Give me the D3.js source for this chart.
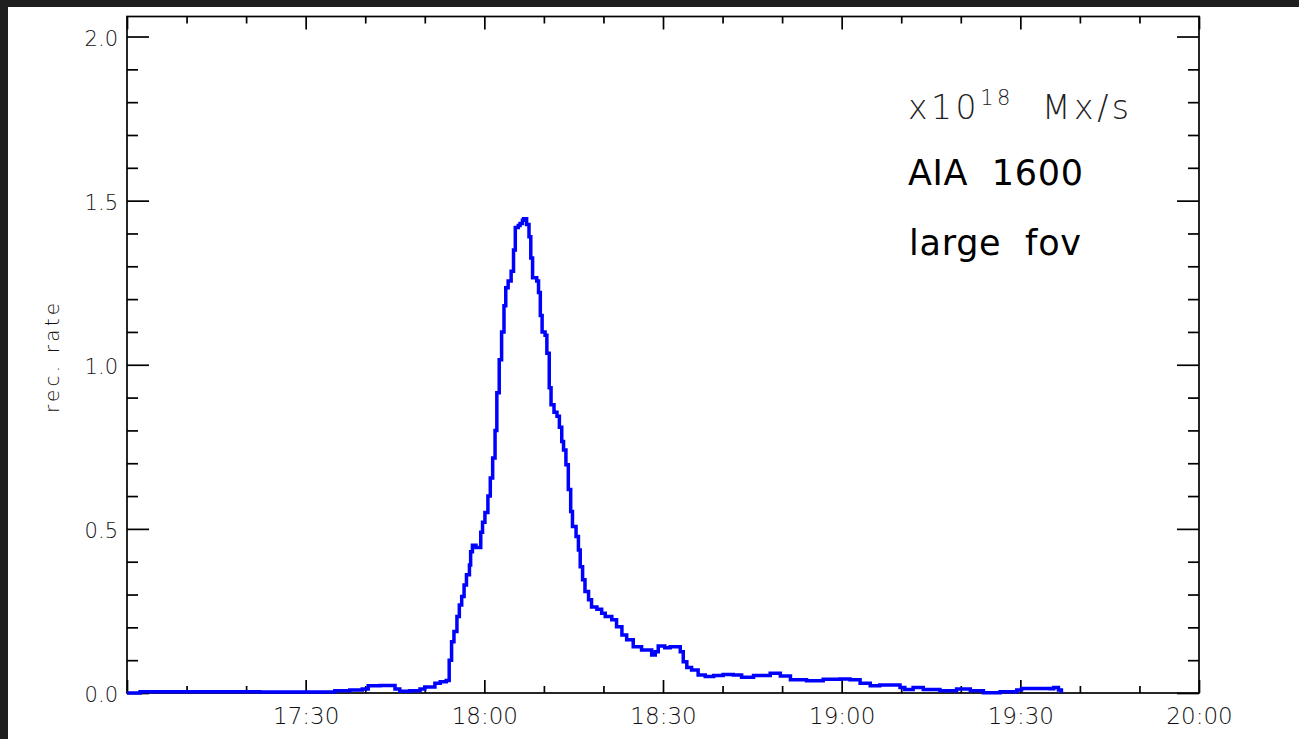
<!DOCTYPE html>
<html>
<head>
<meta charset="utf-8">
<title>rec_rate_aia1600</title>
<script src="https://d3js.org/d3.v7.min.js"></script>
<style>
  html, body { margin: 0; padding: 0; background: #1f1f1f; }
  svg { display: block; }
  .tick text { font-family: "DejaVu Sans", sans-serif; font-weight: 200; fill: #111; }
</style>
</head>
<body>
<svg id="container" width="1299" height="739"></svg>
<script>
// minutes after 17:00 UT
let times = [0, 2.2, 12.3, 22.3, 29.1, 34.9, 37.4, 39.5, 40.5, 42.5, 45.0, 45.8, 47.5, 49.2, 50.0,
  51.7, 52.6, 53.6, 54.1, 54.5, 54.9, 55.4, 55.8, 56.2, 56.6, 57.0, 57.5, 57.7, 58.0, 58.6, 59.4,
  59.7, 60.1, 60.6, 61.0, 61.4, 61.8, 62.1, 62.5, 62.9, 63.3, 63.6, 64.0, 64.5, 64.9, 65.2, 65.7,
  66.0, 66.4, 66.6, 67.1, 67.5, 67.8, 68.1, 68.8, 69.1, 69.4, 69.7, 70.2, 70.5, 70.9, 71.2, 71.7,
  72.2, 72.6, 73.0, 73.3, 73.7, 74.1, 74.5, 74.8, 75.4, 75.8, 76.1, 76.5, 76.9, 77.5, 78.0, 78.9,
  79.7, 80.3, 81.4, 82.2, 83.1, 83.9, 85.0, 86.4, 88.1, 88.7, 89.2, 90.3, 91.2, 92.3, 92.9, 93.4,
  94.0, 94.8, 95.9, 97.1, 98.5, 100.1, 101.8, 103.2, 105.2, 108.0, 109.7, 111.4, 114.1, 116.9,
  119.7, 121.4, 123.1, 124.8, 126.4, 129.8, 130.6, 132.0, 133.7, 136.5, 139.3, 141.6, 143.8,
  146.6, 149.4, 150.2, 152.7, 155.0, 155.6, 156.4, 156.9]

// reconnection rate, x10^18 Mx/s
let rates = [0.000, 0.004, 0.004, 0.003, 0.003, 0.007, 0.009, 0.012, 0.022, 0.023, 0.012, 0.005, 0.007, 0.012, 0.018,
  0.030, 0.034, 0.038, 0.100, 0.156, 0.187, 0.233, 0.268, 0.294, 0.329, 0.360, 0.390, 0.430, 0.450, 0.443, 0.490,
  0.520, 0.550, 0.600, 0.655, 0.716, 0.800, 0.915, 1.015, 1.100, 1.180, 1.235, 1.255, 1.285, 1.350, 1.418, 1.424,
  1.430, 1.440, 1.445, 1.427, 1.390, 1.325, 1.265, 1.255, 1.220, 1.150, 1.100, 1.090, 1.035, 0.930, 0.878, 0.855,
  0.843, 0.810, 0.766, 0.740, 0.695, 0.620, 0.553, 0.507, 0.477, 0.436, 0.385, 0.345, 0.309, 0.284, 0.262, 0.255,
  0.243, 0.233, 0.223, 0.202, 0.177, 0.162, 0.141, 0.131, 0.116, 0.126, 0.143, 0.138, 0.141, 0.141, 0.126, 0.095,
  0.078, 0.070, 0.055, 0.050, 0.053, 0.056, 0.055, 0.048, 0.053, 0.060, 0.052, 0.040, 0.037, 0.042,
  0.043, 0.040, 0.030, 0.022, 0.024, 0.017, 0.011, 0.017, 0.011, 0.007, 0.012, 0.007, 0.001,
  0.004, 0.009, 0.014, 0.014, 0.013, 0.017, 0.009, 0.000]

let xMajor = [0, 30, 60, 90, 120, 150, 180]
let xLabels = ["", "17:30", "18:00", "18:30", "19:00", "19:30", "20:00"]
let xMinor = [10, 20, 40, 50, 70, 80, 100, 110, 130, 140, 160, 170]
let yMajor = [0, 0.5, 1.0, 1.5, 2.0]
let yLabels = ["0.0", "0.5", "1.0", "1.5", "2.0"]
let yMinor = [0.1, 0.2, 0.3, 0.4, 0.6, 0.7, 0.8, 0.9, 1.1, 1.2, 1.3, 1.4, 1.6, 1.7, 1.8, 1.9]

let svg = d3.select('#container')
let padLeft = 127, padTop = 16.5, boxRight = 1199, boxBottom = 693
let w = boxRight - padLeft, h = boxBottom - padTop

// white page inside the dark frame
svg.append('rect').attr('x', 8).attr('y', 7).attr('width', 1299 - 8).attr('height', 739 - 7).attr('fill', 'white')

let body = svg.append('g').attr('transform', `translate(${padLeft},${padTop})`)

let x = d3.scaleLinear().domain([0, 180]).range([0, w])
let y = d3.scaleLinear().domain([0, 2.061]).range([h, 0])

function styleAxis(g) {
  g.select('.domain').remove()
  g.selectAll('.tick line').attr('stroke', 'black').attr('stroke-width', 1.7)
}

// bottom axis
body.append('g').attr('transform', `translate(0,${h})`)
  .call(d3.axisBottom(x).tickValues(xMajor).tickSize(-13).tickSizeOuter(0).tickPadding(15)
    .tickFormat((d, i) => xLabels[i]))
  .call(styleAxis)
  .selectAll('text').attr('font-size', 23)
body.append('g').attr('transform', `translate(0,${h})`)
  .call(d3.axisBottom(x).tickValues(xMinor).tickSize(-7).tickSizeOuter(0).tickFormat(''))
  .call(styleAxis)

// top axis
body.append('g')
  .call(d3.axisTop(x).tickValues(xMajor).tickSize(-13).tickSizeOuter(0).tickFormat(''))
  .call(styleAxis)
body.append('g')
  .call(d3.axisTop(x).tickValues(xMinor).tickSize(-7).tickSizeOuter(0).tickFormat(''))
  .call(styleAxis)

// left axis
body.append('g')
  .call(d3.axisLeft(y).tickValues(yMajor).tickSize(-22).tickSizeOuter(0).tickPadding(9)
    .tickFormat((d, i) => yLabels[i]))
  .call(styleAxis)
  .selectAll('text').attr('font-size', 21).attr('dy', '0.42em')
body.append('g')
  .call(d3.axisLeft(y).tickValues(yMinor).tickSize(-11).tickSizeOuter(0).tickFormat(''))
  .call(styleAxis)

// right axis
body.append('g').attr('transform', `translate(${w},0)`)
  .call(d3.axisRight(y).tickValues(yMajor).tickSize(-22).tickSizeOuter(0).tickFormat(''))
  .call(styleAxis)
body.append('g').attr('transform', `translate(${w},0)`)
  .call(d3.axisRight(y).tickValues(yMinor).tickSize(-11).tickSizeOuter(0).tickFormat(''))
  .call(styleAxis)

// plot box
body.append('rect').attr('width', w).attr('height', h)
  .attr('fill', 'none').attr('stroke', 'black').attr('stroke-width', 1.7)

// data
let data = times.map((t, i) => ({t: t, v: rates[i]}))
let line = d3.line().x(d => x(d.t)).y(d => y(d.v)).curve(d3.curveStepAfter)
body.append('path').datum(data)
  .attr('d', line)
  .attr('fill', 'none')
  .attr('stroke', '#0000ff')
  .attr('stroke-width', 3.5)

// y label
svg.append('text')
  .attr('transform', 'translate(59,358) rotate(-90)')
  .attr('text-anchor', 'middle')
  .attr('font-family', 'DejaVu Sans, sans-serif')
  .attr('font-weight', 200)
  .attr('font-size', 20)
  .attr('fill', '#111')
  .attr('textLength', 110)
  .attr('lengthAdjust', 'spacing')
  .text('rec. rate')

// annotations
let unit = svg.append('text')
  .attr('x', 908).attr('y', 119)
  .attr('font-family', 'DejaVu Sans, sans-serif')
  .attr('font-weight', 200)
  .attr('font-size', 33)
  .attr('fill', '#222')
  .attr('textLength', 221)
  .attr('lengthAdjust', 'spacing')
  .style('white-space', 'pre')
unit.append('tspan').text('x10')
unit.append('tspan').attr('dy', -14).attr('font-size', 21).text('18')
unit.append('tspan').attr('dy', 14).text('  Mx/s')

svg.append('text')
  .attr('x', 908).attr('y', 185)
  .attr('font-family', 'DejaVu Sans, sans-serif')
  .attr('font-size', 35)
  .attr('fill', 'black')
  .attr('textLength', 175)
  .attr('lengthAdjust', 'spacing')
  .style('white-space', 'pre')
  .text('AIA  1600')

svg.append('text')
  .attr('x', 909).attr('y', 255)
  .attr('font-family', 'DejaVu Sans, sans-serif')
  .attr('font-size', 35)
  .attr('fill', 'black')
  .attr('textLength', 172)
  .attr('lengthAdjust', 'spacing')
  .style('white-space', 'pre')
  .text('large  fov')
</script>
</body>
</html>
